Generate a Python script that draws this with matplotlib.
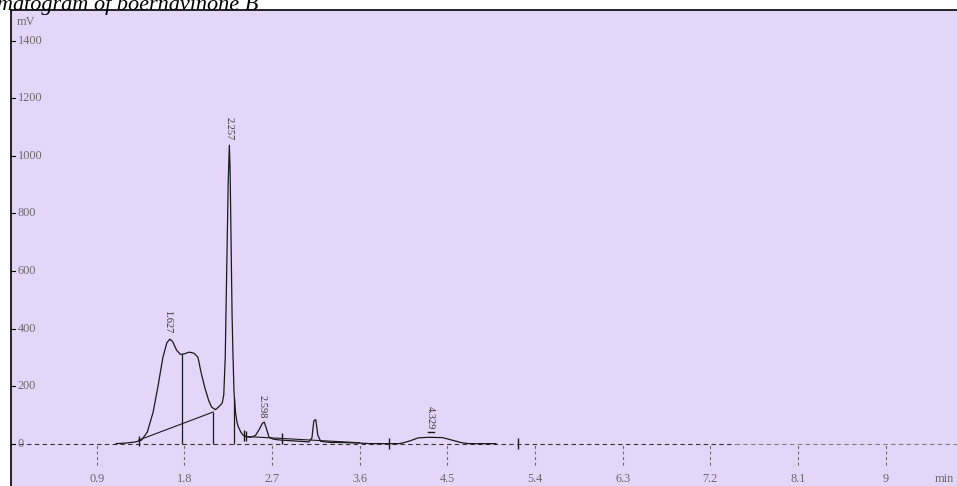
import matplotlib
matplotlib.use("Agg")
import matplotlib.pyplot as plt
import numpy as np

# retention time (min) / detector signal (mV)
time_min = [
    1.10, 1.20, 1.30, 1.36, 1.42, 1.48, 1.53, 1.58, 1.62, 1.65, 1.68, 1.72,
    1.76, 1.80, 1.85, 1.90, 1.94, 1.97, 2.01, 2.05, 2.08, 2.12, 2.16, 2.19,
    2.205, 2.22, 2.235, 2.25, 2.262, 2.27, 2.28, 2.29, 2.30, 2.31, 2.325,
    2.34, 2.355, 2.38, 2.405, 2.44, 2.48, 2.53, 2.57, 2.60, 2.62, 2.64, 2.67,
    2.72, 2.80, 2.90, 3.00, 3.08, 3.11, 3.13, 3.15, 3.17, 3.20, 3.30, 3.40,
    3.50, 3.60, 3.70, 4.00, 4.05, 4.12, 4.20, 4.30, 4.45, 4.55, 4.65, 4.72,
    5.00,
]
signal_mv = [
    0, 2, 6, 12, 40, 110, 200, 300, 350, 363, 355, 325,
    310, 312, 318, 314, 300, 250, 195, 150, 127, 118, 130, 142,
    170, 300, 600, 900, 1037, 950, 700, 450, 300, 180, 110,
    75, 58, 40, 29, 24, 22, 28, 50, 70, 75, 55, 22,
    15, 12, 10, 8, 6, 20, 80, 83, 30, 8, 4, 4,
    3, 2, 0, 0, 3, 10, 20, 22, 21, 12, 3, 0,
    0,
]

peak_times = [1.627, 2.257, 2.598, 4.329]
peak_labels = ["1.627", "2.257", "2.598", "4.329"]
label_bottom_mv = [385, 1055, 88, 50]

# integration baseline segments ((t0, v0), (t1, v1))
baselines = [
    ((1.33, 12), (2.097, 110)),
    ((2.42, 25), (2.80, 18)),
    ((2.80, 18), (3.60, 3)),
]
drop_times = [1.773, 2.097, 2.313]
drop_tops = [311, 110, 160]
marker_times = [1.33, 2.41, 2.43, 2.80, 3.90, 5.23]
marker_levels = [10, 28, 26, 18, 0, 0]

x_ticks = [0.9, 1.8, 2.7, 3.6, 4.5, 5.4, 6.3, 7.2, 8.1, 9.0]
x_tick_labels = ["0.9", "1.8", "2.7", "3.6", "4.5", "5.4", "6.3", "7.2", "8.1", "9"]
y_ticks = [0, 200, 400, 600, 800, 1000, 1200, 1400]

W, H = 957, 486
fig = plt.figure(figsize=(W / 100, H / 100), dpi=100)
fig.patch.set_facecolor("white")

# axes frame: left edge at 11 px, top at 10 px, runs off the right/bottom
ax = fig.add_axes([11 / W, -10 / H, (962 - 11) / W, (486 - 10 + 10) / H])
ax.set_facecolor("#e4d6f8")
ax.set_xlim(0.0205, 9.784)
ax.set_ylim(-182, 1507)
for side in ("right", "bottom"):
    ax.spines[side].set_visible(False)
for side in ("left", "top"):
    ax.spines[side].set_color("black")
    ax.spines[side].set_linewidth(1.2)
ax.set_xticks([])
ax.set_yticks([])

serif = ["Liberation Serif", "DejaVu Serif"]
label_font = dict(family=serif, fontsize=8.8, color="#6a6a6a")

# zero line: darker where the trace sits on it, lighter beyond
ax.plot([0.0205, 7.45], [0, 0], color="#333333", lw=0.8, ls=(0, (4, 3)), zorder=2)
ax.plot([7.45, 9.784], [0, 0], color="#808080", lw=0.8, ls=(0, (4, 3)), zorder=2)

# y ticks and labels inside the frame
trans_y = ax.get_yaxis_transform()
for v in y_ticks:
    ax.plot([0, 0.004], [v, v], transform=trans_y, color="black", lw=0.8, clip_on=False)
    ax.text(0.007, v, str(v), transform=trans_y, ha="left", va="center", **label_font)
ax.text(0.006, 1465, "mV", transform=trans_y, ha="left", va="center", **label_font)

# x ticks as dashed drop lines below zero
ax.vlines(x_ticks, -76, 0, colors="#666666", lw=0.8, linestyles=(0, (2.5, 2.5)))
for t, lab in zip(x_ticks, x_tick_labels):
    ax.text(t, -122, lab, ha="center", va="center", **label_font)
ax.text(9.70, -122, "min", ha="right", va="center", **label_font)

# chromatogram trace
ax.plot(time_min, signal_mv, color="#1a1a1a", lw=0.9, zorder=4)

# integration aids
for (t0, v0), (t1, v1) in baselines:
    ax.plot([t0, t1], [v0, v1], color="#1a1a1a", lw=0.8, zorder=4)
ax.vlines(drop_times, 0, drop_tops, colors="#1a1a1a", lw=0.9, zorder=4)
ax.vlines(marker_times, np.array(marker_levels) - 18, np.array(marker_levels) + 18,
          colors="#1a1a1a", lw=1.0, zorder=4)
ax.plot([4.30, 4.36], [42, 42], color="#1a1a1a", lw=1.0)

for t, lab, v in zip(peak_times, peak_labels, label_bottom_mv):
    ax.text(t, v, lab, rotation=270, ha="center", va="bottom",
            family=serif, fontsize=7.5, color="#333333")

# caption, cut off at the left and top edge as in the source
fig.text(258 / W, 1 - 10 / H, "Chromatogram of boernavinone B", ha="right", va="baseline",
         family=serif, style="italic", fontsize=16, color="black", zorder=5)

fig.savefig("out.png", dpi=100, facecolor="white")
